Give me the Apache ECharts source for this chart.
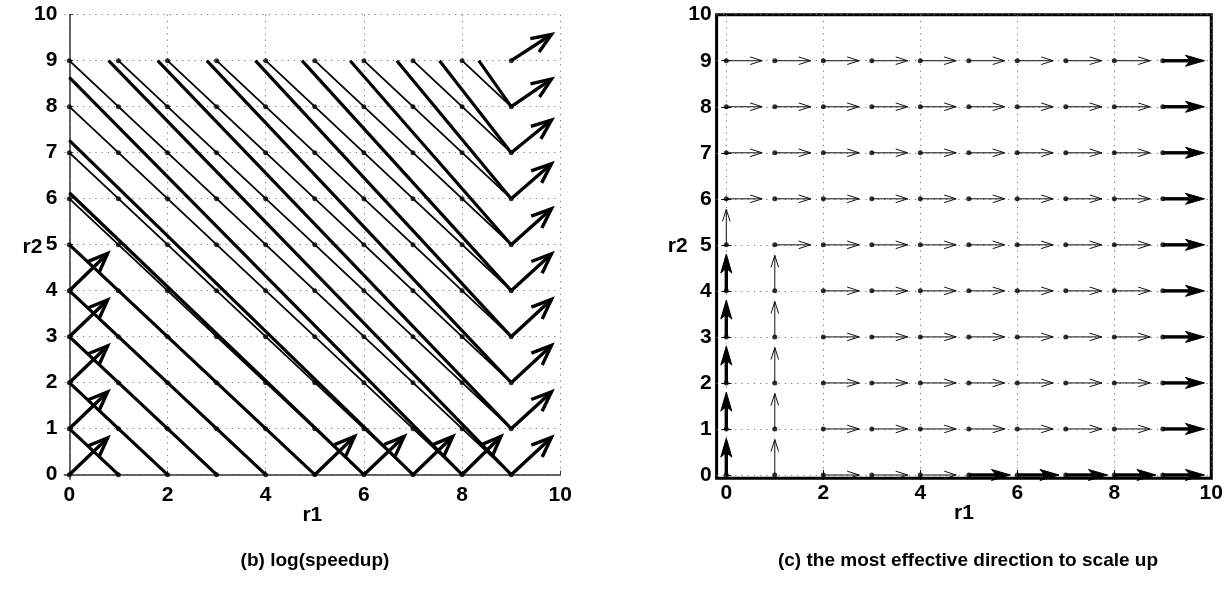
<!DOCTYPE html>
<html>
<head>
<meta charset="utf-8">
<script src="https://cdn.jsdelivr.net/npm/echarts@6/dist/echarts.min.js"></script>
<style>
html, body { margin: 0; padding: 0; background: #fff; }
#main { width: 1230px; height: 594px; }
</style>
</head>
<body>
<div id="main"></div>
<script>
// tick labels
const xTicks = [0, 2, 4, 6, 8, 10];
const yTicks = [0, 1, 2, 3, 4, 5, 6, 7, 8, 9, 10];

// grid nodes (r1, r2) where the dots are
const r1Nodes = [0, 1, 2, 3, 4, 5, 6, 7, 8, 9];
const r2Nodes = [0, 1, 2, 3, 4, 5, 6, 7, 8, 9];

// (b) quiver arrows: start point and vector
const quiverR1 = [0, 0, 0, 0, 0, 5, 6, 7, 8, 9, 9, 9, 9, 9, 9, 9, 9, 9, 9];
const quiverR2 = [0, 1, 2, 3, 4, 0, 0, 0, 0, 0, 1, 2, 3, 4, 5, 6, 7, 8, 9];
const quiverDR1 = [0.78, 0.78, 0.78, 0.78, 0.78, 0.81, 0.82, 0.81, 0.79, 0.82, 0.82, 0.82, 0.82, 0.82, 0.82, 0.82, 0.82, 0.82, 0.82];
const quiverDR2 = [0.80, 0.80, 0.80, 0.80, 0.81, 0.83, 0.83, 0.83, 0.83, 0.81, 0.80, 0.81, 0.81, 0.80, 0.78, 0.76, 0.71, 0.60, 0.57];

// (b) diagonal lines: end points are shared by the thin and the thick line
const lineEnds = [[1, 0], [2, 0], [3, 0], [4, 0], [5, 0], [6, 0], [7, 0], [8, 0], [9, 0],
                  [9, 1], [9, 2], [9, 3], [9, 4], [9, 5], [9, 6], [9, 7], [9, 8]];
const thinStarts = [[0, 1], [0, 2], [0, 3], [0, 4], [0, 5], [0, 6], [0, 7], [0, 8], [0, 9],
                    [1, 9], [2, 9], [3, 9], [4, 9], [5, 9], [6, 9], [7, 9], [8, 9]];
const thickStarts = [[0, 1], [0, 2], [0, 3], [0, 4], [0, 5], [0, 6.13], [0, 7.27], [0, 8.64], [0.8, 9],
                     [1.8, 9], [2.8, 9], [3.79, 9], [4.74, 9], [5.72, 9], [6.67, 9], [7.54, 9], [8.34, 9]];

// (c) best direction at each node, rows r2 = 9..0, one char per r1 = 0..9
// r = thin right, R = thick right, u = thin up, U = thick up
const bestDir = [
    'rrrrrrrrrR',
    'rrrrrrrrrR',
    'rrrrrrrrrR',
    'rrrrrrrrrR',
    'urrrrrrrrR',
    'UurrrrrrrR',
    'UurrrrrrrR',
    'UurrrrrrrR',
    'UurrrrrrrR',
    'UurrrRRRRR'
];
const dirLength = { r: 0.74, R: 0.86, u: 0.77, U: 0.8 };

// build series data
const nodes = [];
r2Nodes.forEach(r2 => r1Nodes.forEach(r1 => nodes.push([r1, r2])));

const quiverData = quiverR1.map((r1, i) => [r1, quiverR2[i], quiverDR1[i], quiverDR2[i]]);
const thinLines = thinStarts.map((s, i) => [s[0], s[1], lineEnds[i][0], lineEnds[i][1]]);
const thickLines = thickStarts.map((s, i) => [s[0], s[1], lineEnds[i][0], lineEnds[i][1]]);

const thinArrows = [];
const thickArrows = [];
bestDir.forEach((row, i) => {
    const r2 = r2Nodes[r2Nodes.length - 1 - i];
    row.split('').forEach((c, j) => {
        const len = dirLength[c];
        const vec = (c === 'r' || c === 'R') ? [len, 0] : [0, len];
        const item = [r1Nodes[j], r2, vec[0], vec[1]];
        if (c === 'r' || c === 'u') thinArrows.push(item); else thickArrows.push(item);
    });
});

const FONT = 'Liberation Sans, Arial, Helvetica, sans-serif';

function segmentRenderer(width) {
    return function (params, api) {
        const p0 = api.coord([api.value(0), api.value(1)]);
        const p1 = api.coord([api.value(2), api.value(3)]);
        return {
            type: 'line',
            shape: { x1: p0[0], y1: p0[1], x2: p1[0], y2: p1[1] },
            style: { stroke: '#000', lineWidth: width }
        };
    };
}

function arrowRenderer(opt) {
    return function (params, api) {
        const x = api.value(0), y = api.value(1);
        const p0 = api.coord([x, y]);
        const p1 = api.coord([x + api.value(2), y + api.value(3)]);
        const dx = p1[0] - p0[0], dy = p1[1] - p0[1];
        const len = Math.hypot(dx, dy) || 1;
        const ex = dx / len, ey = dy / len;
        const bx = p1[0] - ex * opt.headLen, by = p1[1] - ey * opt.headLen;
        const left = [bx - ey * opt.headHalf, by + ex * opt.headHalf];
        const right = [bx + ey * opt.headHalf, by - ex * opt.headHalf];
        const children = [];
        if (opt.filled) {
            const notch = [p1[0] - ex * opt.headLen * 0.75, p1[1] - ey * opt.headLen * 0.75];
            children.push({
                type: 'line',
                shape: { x1: p0[0], y1: p0[1], x2: notch[0], y2: notch[1] },
                style: { stroke: '#000', lineWidth: opt.width }
            });
            children.push({
                type: 'polygon',
                shape: { points: [p1, left, notch, right] },
                style: { fill: '#000', stroke: '#000', lineWidth: 1 }
            });
        } else {
            children.push({
                type: 'line',
                shape: { x1: p0[0], y1: p0[1], x2: p1[0], y2: p1[1] },
                style: { stroke: opt.color || '#000', lineWidth: opt.width }
            });
            children.push({
                type: 'polyline',
                shape: { points: [left, p1, right] },
                style: { stroke: opt.color || '#000', lineWidth: opt.width, fill: null }
            });
        }
        return { type: 'group', children: children };
    };
}

const labelStyle = { color: '#000', fontFamily: FONT, fontWeight: 'bold', fontSize: 21 };
const dotted = { color: '#777', width: 1, type: [1.2, 5] };

const chart = echarts.init(document.getElementById('main'));
chart.setOption({
    animation: false,
    backgroundColor: '#fff',
    graphic: [
        { type: 'text', x: 315, y: 561, style: { text: '(b) log(speedup)', align: 'center', verticalAlign: 'middle', font: 'bold 19px ' + FONT, fill: '#000' } },
        { type: 'text', x: 968, y: 561, style: { text: '(c) the most effective direction to scale up', align: 'center', verticalAlign: 'middle', font: 'bold 19px ' + FONT, fill: '#000' } }
    ],
    grid: [
        { left: 64.4, top: 14.7, width: 495.9, height: 464.6 },
        { left: 716.6, top: 14.7, width: 494.7, height: 463.5, show: true, borderColor: '#000', borderWidth: 3, backgroundColor: 'transparent' }
    ],
    xAxis: [
        {
            gridIndex: 0, type: 'value', min: -0.1, max: 10,
            axisLine: { show: true, lineStyle: { color: '#333', width: 1.5 } },
            axisTick: { show: true, inside: true, length: 4, customValues: xTicks, lineStyle: { color: '#333' } },
            axisLabel: Object.assign({ customValues: xTicks, margin: 5 }, labelStyle),
            splitLine: { show: true, lineStyle: dotted },
            name: 'r1', nameLocation: 'middle', nameGap: 25, nameMoveOverlap: false,
            nameTextStyle: labelStyle
        },
        {
            gridIndex: 1, type: 'value', min: -0.2, max: 10,
            axisLine: { show: false },
            axisTick: { show: true, inside: true, length: 5, customValues: xTicks, lineStyle: { color: '#000' } },
            axisLabel: Object.assign({ customValues: xTicks, margin: 5 }, labelStyle),
            splitLine: { show: true, lineStyle: dotted },
            name: 'r1', nameLocation: 'middle', nameGap: 25, nameMoveOverlap: false,
            nameTextStyle: labelStyle
        },
        {
            gridIndex: 1, type: 'value', min: -0.2, max: 10, position: 'top',
            axisLine: { show: false },
            axisTick: { show: true, inside: true, length: 5, customValues: [2, 4, 6, 8], lineStyle: { color: '#000' } },
            axisLabel: { show: false },
            splitLine: { show: false }
        }
    ],
    yAxis: [
        {
            gridIndex: 0, type: 'value', min: -0.1, max: 10,
            axisLine: { show: true, lineStyle: { color: '#333', width: 1.5 } },
            axisTick: { show: true, inside: true, length: 4, customValues: yTicks, lineStyle: { color: '#333' } },
            axisLabel: Object.assign({ customValues: yTicks, margin: 7 }, labelStyle),
            splitLine: { show: true, lineStyle: dotted },
            name: 'r2', nameLocation: 'middle', nameRotate: 0, nameGap: 22, nameMoveOverlap: false,
            nameTextStyle: labelStyle
        },
        {
            gridIndex: 1, type: 'value', min: -0.07, max: 10,
            axisLine: { show: false },
            axisTick: { show: true, inside: true, length: 5, customValues: yTicks, lineStyle: { color: '#000' } },
            axisLabel: Object.assign({ customValues: yTicks, margin: 5 }, labelStyle),
            splitLine: { show: true, lineStyle: dotted },
            name: 'r2', nameLocation: 'middle', nameRotate: 0, nameGap: 29, nameMoveOverlap: false,
            nameTextStyle: labelStyle
        },
        {
            gridIndex: 1, type: 'value', min: -0.07, max: 10, position: 'right',
            axisLine: { show: false },
            axisTick: { show: true, inside: true, length: 5, customValues: [1, 2, 3, 4, 5, 6, 7, 8, 9], lineStyle: { color: '#000' } },
            axisLabel: { show: false },
            splitLine: { show: false }
        }
    ],
    series: [
        {
            type: 'custom', xAxisIndex: 0, yAxisIndex: 0, silent: true,
            data: thinLines, encode: { x: [0, 2], y: [1, 3] },
            renderItem: segmentRenderer(1.8)
        },
        {
            type: 'custom', xAxisIndex: 0, yAxisIndex: 0, silent: true,
            data: thickLines, encode: { x: [0, 2], y: [1, 3] },
            renderItem: segmentRenderer(3.2)
        },
        {
            type: 'custom', xAxisIndex: 0, yAxisIndex: 0, silent: true,
            data: quiverData, encode: { x: 0, y: 1 },
            renderItem: arrowRenderer({ width: 3.4, headLen: 20, headHalf: 8 })
        },
        {
            type: 'scatter', xAxisIndex: 0, yAxisIndex: 0, silent: true,
            data: nodes, symbolSize: 5, itemStyle: { color: '#000' }
        },
        {
            type: 'scatter', xAxisIndex: 1, yAxisIndex: 1, silent: true,
            data: nodes, symbolSize: 5, itemStyle: { color: '#000' }
        },
        {
            type: 'custom', xAxisIndex: 1, yAxisIndex: 1, silent: true,
            data: thinArrows, encode: { x: 0, y: 1 },
            renderItem: arrowRenderer({ width: 1, headLen: 12, headHalf: 3.8, color: '#111' })
        },
        {
            type: 'custom', xAxisIndex: 1, yAxisIndex: 1, silent: true,
            data: thickArrows, encode: { x: 0, y: 1 },
            renderItem: arrowRenderer({ width: 3.4, headLen: 19, headHalf: 5.5, filled: true })
        }
    ]
});
</script>
</body>
</html>
